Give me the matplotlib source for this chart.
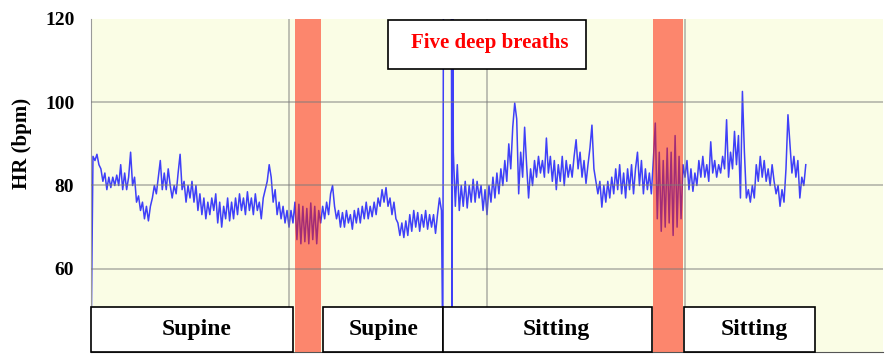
import numpy as np
import matplotlib
matplotlib.use("Agg")
import matplotlib.pyplot as plt
import matplotlib.patches as mpatches

plt.rcParams['font.family'] = ['Liberation Serif', 'DejaVu Serif']

# heart rate (bpm), sampled every 3 s, one list per phase
hr_supine1 = [40, 87, 86, 87.5, 85, 84, 81, 83, 79, 82, 79.5, 82, 80, 82.5, 80, 85, 79, 83, 79, 82,
              88, 80, 82, 76, 77.5, 74, 76, 72, 75, 71.5, 75, 77, 80, 78, 82, 86, 79, 83, 79, 84,
              80, 77, 80, 78, 83, 87.5, 79, 81, 76, 80, 77, 81, 76, 80, 74, 78, 73, 77, 72, 76,
              73, 77, 74, 78, 71, 76, 70, 75, 72, 77, 71.5, 76, 72, 77, 73, 78, 74, 77, 73, 78.5,
              74, 77, 73, 78, 74, 76, 72, 77, 79, 81, 85, 82, 76, 79, 73, 76, 72, 75, 71, 74,
              70, 74, 71]
hr_breath1 = [76, 67, 75.5, 66, 75, 66.5, 74.5, 66, 75.8, 67, 75, 66, 74, 71]
hr_supine2 = [75, 72, 76, 73, 78, 80, 75, 72, 74, 70, 73.5, 70, 74, 71, 73, 69.5, 74, 71, 74.5, 71,
              75, 72, 76, 72, 75, 72.5, 76, 73, 77, 75, 79, 76, 79.5, 75, 77, 73, 76, 72, 71, 68,
              71, 67.5, 71.5, 68, 73, 69, 74, 70, 73.5, 69, 73, 70, 74, 69.5, 73, 70, 73, 68.5, 73, 77,
              74]
hr_spike_t = [533, 534, 546, 547, 548]
hr_spike = [40, 125, 125, 40, 121]
hr_sitting1 = [88, 75, 85, 74, 80, 75, 81, 74.6, 80, 76, 81.5, 76, 81, 77, 80, 74, 79, 73, 80, 76,
               82, 77, 83, 78, 84, 80, 86, 81, 90, 84, 94, 99.8, 96, 78, 88, 82, 94, 85, 77, 84,
               80, 86, 82, 87, 83, 86, 82, 91.4, 83, 87, 81, 86, 79, 85, 81, 87, 80, 86, 82, 85,
               82, 87, 91, 84, 88, 82, 86, 80.5, 85, 89, 94.5, 84, 81, 78, 81, 74.8, 80, 76, 81, 77,
               82, 78, 84, 79, 85, 78, 83, 77, 84, 79, 85, 78, 84, 88, 80, 86, 78, 84, 79, 83,
               78]
hr_breath2 = [86, 95, 72, 88, 69, 86, 70, 89, 71, 88, 68, 92, 70, 87, 72, 85]
hr_sitting2 = [82, 86, 79, 84, 78.6, 83, 80, 86, 82, 87, 82, 85, 81, 90.5, 83, 86, 82, 85, 83, 87,
               84, 95.8, 82, 88, 84, 93, 85, 92, 77, 102.6, 88, 77, 79, 76, 80, 77, 85, 81, 87, 82,
               86, 81, 84, 80, 85, 81, 78, 80, 75, 79, 76, 84, 97, 90, 83, 87, 82, 86, 77, 82,
               80, 85]
seg_start = [0, 309, 351, 549, 852, 900]

# phases (seconds)
breath_bands = [(309, 348), (851, 897)]
phase_boxes = [(0, 306), (351, 533), (533, 849.5), (898, 1096.5)]
phase_labels = ['Supine', 'Supine', 'Sitting', 'Sitting']
label_x = [160, 443, 705, 1005]

step = 3
segs = [hr_supine1, hr_breath1, hr_supine2, hr_sitting1, hr_breath2, hr_sitting2]
t_parts, v_parts = [], []
for i, (s, vals) in enumerate(zip(seg_start, segs)):
    t_parts.append(s + step * np.arange(len(vals)))
    v_parts.append(np.array(vals, dtype=float))
    if i == 2:
        t_parts.append(np.array(hr_spike_t, dtype=float))
        v_parts.append(np.array(hr_spike, dtype=float))
t = np.concatenate(t_parts)
hr = np.concatenate(v_parts)

fig = plt.figure(figsize=(8.94, 3.61), dpi=100)
ax = fig.add_axes([91 / 894, 9 / 361, 792 / 894, 333 / 361])
ax.set_facecolor('#FAFDE5')
ax.set_xlim(0, 1200)
ax.set_ylim(40, 120)

ax.plot(t, hr, color='#0000FF', lw=1.1, alpha=0.75, zorder=2)

for a, b in breath_bands:
    ax.axvspan(a, b, color='#FF1A00', alpha=0.52, lw=0, zorder=3)

for y in [60, 80, 100]:
    ax.axhline(y, color='#7A7A7A', lw=1.1, alpha=0.6, zorder=4)
for x in [300, 600, 900]:
    ax.axvline(x, color='#7A7A7A', lw=1.1, alpha=0.6, zorder=4)

for (a, b), lab, lx in zip(phase_boxes, phase_labels, label_x):
    ax.add_patch(mpatches.Rectangle((a, 40), b - a, 10.9, facecolor='white',
                                    edgecolor='black', lw=1.2, zorder=5, clip_on=False))
    ax.text(lx, 45.3, lab, ha='center', va='center', fontsize=17,
            fontweight='bold', zorder=6)

ax.add_patch(mpatches.Rectangle((450, 108.1), 299.5, 11.7, facecolor='white',
                                edgecolor='black', lw=1.2, zorder=5))
ax.text(604, 114.2, 'Five deep breaths', ha='center', va='center', color='#FF0000',
        fontsize=15, fontweight='bold', zorder=6)

ax.set_yticks([60, 80, 100, 120])
ax.set_yticklabels(['60', '80', '100', '120'], fontsize=14, fontweight='bold')
ax.set_xticks([])
ax.tick_params(axis='y', length=0, pad=12)
for side in ['top', 'right']:
    ax.spines[side].set_visible(False)
ax.spines['left'].set_color('#9A9A9A')
ax.spines['bottom'].set_color('#555555')

fig.text(22 / 894, 1 - 143.5 / 361, 'HR (bpm)', rotation=90, ha='center', va='center',
         fontsize=15, fontweight='bold')

fig.savefig('out.png', dpi=100, facecolor='white')
